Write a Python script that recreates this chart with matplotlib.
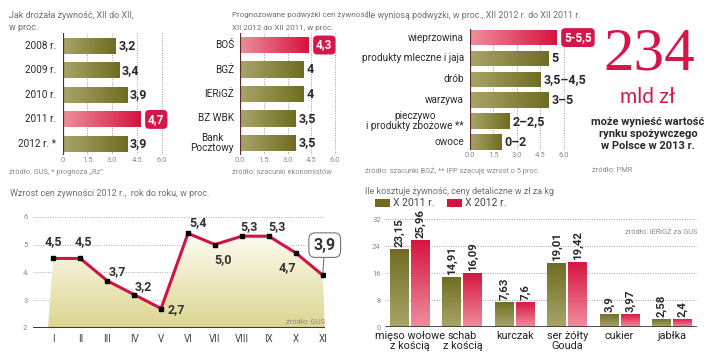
import numpy as np
import matplotlib
matplotlib.use("Agg")
import matplotlib.pyplot as plt
from matplotlib.colors import LinearSegmentedColormap
from matplotlib.patches import Polygon, Rectangle

plt.rcParams["font.family"] = ["Roboto", "DejaVu Sans"]

# --- data ------------------------------------------------------------------
years = ["2008 r.", "2009 r.", "2010 r.", "2011 r.", "2012 r. *"]
yearly_rise = [3.2, 3.4, 3.9, 4.7, 3.9]

banks = ["BOŚ", "BGŻ", "IERiGŻ", "BZ WBK", "Bank\nPocztowy"]
bank_forecast = [4.3, 4.0, 4.0, 3.5, 3.5]
bank_labels = ["4,3", "4", "4", "3,5", "3,5"]

products = ["wieprzowina", "produkty mleczne i jaja", "drób", "warzywa",
            "pieczywo\ni produkty zbożowe **", "owoce"]
product_rise_max = [5.5, 5.0, 4.5, 5.0, 2.5, 2.0]
product_labels = ["5-5,5", "5", "3,5–4,5", "3–5", "2–2,5", "0–2"]

months = ["I", "II", "III", "IV", "V", "VI", "VII", "VIII", "IX", "X", "XI"]
monthly_rise = [4.5, 4.5, 3.7, 3.2, 2.7, 5.4, 5.0, 5.3, 5.3, 4.7, 3.9]

foods = ["mięso wołowe\nz kością", "schab\nz kością", "kurczak",
         "ser żółty\nGouda", "cukier", "jabłka"]
price_2011 = [23.15, 14.91, 7.63, 19.01, 3.9, 2.58]
price_2012 = [25.96, 16.09, 7.6, 19.42, 3.97, 2.4]

W, H = 720, 358
OLIVE = ["#a9a56a", "#6f6c22"]
RED = ["#ef8e9c", "#d6133f"]
HILITE = "#d5164a"
DARK = "#2a2a2a"
GREY = "#8a8a8a"
TITLE = "#707070"


def px_axes(fig, left, top, right, bottom):
    ax = fig.add_axes([left / W, 1 - bottom / H, (right - left) / W, (bottom - top) / H])
    for s in ax.spines.values():
        s.set_visible(False)
    ax.patch.set_alpha(0)
    return ax


def fig_text(fig, x, y, s, **kw):
    kw.setdefault("va", "center")
    fig.text(x / W, 1 - y / H, s, **kw)


def grad_fill(ax, patch, colors, vertical=False, extent=None):
    cmap = LinearSegmentedColormap.from_list("g", colors)
    ramp = np.linspace(0, 1, 128)
    arr = ramp.reshape(-1, 1) if vertical else ramp.reshape(1, -1)
    if extent is None:
        x0, y0 = patch.get_x(), patch.get_y()
        extent = (x0, x0 + patch.get_width(), y0, y0 + patch.get_height())
    im = ax.imshow(arr, extent=extent, origin="lower", aspect="auto", cmap=cmap,
                   interpolation="bilinear", zorder=patch.get_zorder() + 0.1)
    im.set_clip_path(patch)


def hbar_panel(fig, box, cats, vals, labels, hi, tick_labels, bar_h, ylim):
    ax = px_axes(fig, *box)
    ticks = [0, 1.5, 3.0, 4.5, 6.0]
    for t in ticks[1:]:
        ax.axvline(t, color="#9a9a9a", lw=0.7, ls=(0, (1, 1.5)), zorder=0)
    ax.axvline(0, color="#5c2b2b", lw=1.6, zorder=3)
    bars = ax.barh(np.arange(len(vals)), vals, height=bar_h, color=OLIVE[1],
                   edgecolor="none", zorder=2)
    for i, (bar, lbl) in enumerate(zip(bars, labels)):
        grad_fill(ax, bar, RED if i == hi else OLIVE)
        if i == hi:
            ax.annotate(lbl, (bar.get_width(), i), xytext=(8, 0), textcoords="offset pixels",
                        ha="left", va="center", color="white", fontsize=8.5, fontweight="bold",
                        bbox=dict(boxstyle="round,pad=0.25,rounding_size=0.35", fc=HILITE, ec="none"))
        else:
            ax.annotate(lbl, (bar.get_width(), i), xytext=(3, 0), textcoords="offset pixels",
                        ha="left", va="center", color=DARK, fontsize=9, fontweight="bold")
        ax.annotate(cats[i], (0, i), xytext=(-6, 0), textcoords="offset pixels", ha="right",
                    va="center", fontsize=7.2, color=DARK, multialignment="center",
                    linespacing=0.95)
    ax.set_xticks(ticks, tick_labels)
    ax.set_yticks([])
    ax.tick_params(axis="x", length=0, pad=1.5, labelsize=5.5, labelcolor=GREY)
    ax.set_xlim(0, 6.2)
    ax.set_ylim(ylim)
    return ax


fig = plt.figure(figsize=(W / 100, H / 100), dpi=100)

# --- panel 1: yearly rise ---------------------------------------------------
fig_text(fig, 9, 15, "Jak drożała żywność, XII do XII,", fontsize=6.5, color=TITLE)
fig_text(fig, 9, 28, "w proc.", fontsize=6.5, color=TITLE)
hbar_panel(fig, (62.5, 33, 164.8, 155), years, yearly_rise,
           [f"{v:.1f}".replace(".", ",") for v in yearly_rise], 3,
           ["0", "1.5", "3.0", "4.5", "6.0"], 0.65, (4.45, -0.52))
fig_text(fig, 9, 172, "źródło: GUS, * prognoza „Rz”", fontsize=5.3, color=GREY)

# --- panel 2: bank forecasts -----------------------------------------------
fig_text(fig, 232, 15, "Prognozowane podwyżki cen żywności,", fontsize=5.8, color=TITLE)
fig_text(fig, 232, 28, "XII 2012 do XII 2011, w proc.", fontsize=5.8, color=TITLE)
hbar_panel(fig, (240, 33, 338.2, 155), banks, bank_forecast, bank_labels, 0,
           ["0.0", "1.5", "3.0", "4.5", "6.0"], 0.67, (4.49, -0.49))
fig_text(fig, 232, 172, "źródło: szacunki ekonomistów", fontsize=5.3, color=GREY)

# --- panel 3: product forecasts --------------------------------------------
fig_text(fig, 366, 15, "Ile wyniosą podwyżki, w proc., XII 2012 r. do XII 2011 r.",
         fontsize=6.4, color=TITLE)
hbar_panel(fig, (470, 29, 567.1, 150), products, product_rise_max, product_labels, 0,
           ["0.0", "1.5", "3.0", "4.5", "6.0"], 0.75, (5.38, -0.41))
fig_text(fig, 365, 171, "źródło: szacunki BGŻ, ** IPP szacuje wzrost o 5 proc.",
         fontsize=5.3, color=GREY)

# --- market value callout ---------------------------------------------------
fig_text(fig, 649, 55, "234", ha="center", fontsize=44, color=HILITE,
         family=["Liberation Serif", "DejaVu Serif"])
fig_text(fig, 648, 97, "mld zł", ha="center", fontsize=15, color=HILITE,
         family=["Lato", "DejaVu Sans"])
fig_text(fig, 648, 134, "może wynieść wartość\nrynku spożywczego\nw Polsce w 2013 r.",
         ha="center", fontsize=8, fontweight="bold", color=DARK, linespacing=1.25)
fig_text(fig, 592, 171, "źródło: PMR", fontsize=5.3, color=GREY)

# --- panel 4: monthly line --------------------------------------------------
fig_text(fig, 10, 193, "Wzrost cen żywności 2012 r.,  rok do roku, w proc.",
         fontsize=6.5, color=TITLE)
ax = px_axes(fig, 33, 216.7, 325, 328)
x = np.arange(len(monthly_rise))
for g in [3, 4, 5, 6]:
    ax.axhline(g, color="#b0b0b0", lw=0.7, ls=(0, (1, 1.5)), zorder=0)
ax.axhline(2, color="#3c3c3c", lw=2.2, zorder=4)
verts = [(x[0] - 0.2, 2)] + list(zip(x, monthly_rise)) + [(x[-1] + 0.08, 2)]
area = Polygon(verts, closed=True, fc="none", ec="none", zorder=1)
ax.add_patch(area)
grad_fill(ax, area, ["#dcd690", "#fdfcf2"], vertical=True,
          extent=(x[0] - 0.2, x[-1] + 0.08, 2, max(monthly_rise)))
ax.plot(x, monthly_rise, color="#cf1546", lw=2.2, zorder=5, solid_joinstyle="miter")
ax.plot(x, monthly_rise, "s", color="black", ms=2.6, zorder=6)
offsets = [(0, 17), (3, 17), (10, 9), (9, 8), (15, -1), (10, 11),
           (8, -15), (7, 10), (8, 10), (-8, -15)]
for i, (dx, dy) in enumerate(offsets):
    ax.annotate(f"{monthly_rise[i]:.1f}".replace(".", ","), (x[i], monthly_rise[i]),
                xytext=(dx, dy), textcoords="offset pixels", ha="center", va="center",
                fontsize=9, fontweight="bold", color="#333333")
last = len(monthly_rise) - 1
ax.annotate(f"{monthly_rise[last]:.1f}".replace(".", ","), (x[last], monthly_rise[last]),
            xytext=(2, 30), textcoords="offset pixels", ha="center", va="center",
            fontsize=11.5, fontweight="bold", color="#333333", annotation_clip=False,
            bbox=dict(boxstyle="round,pad=0.3,rounding_size=0.4", fc="white", ec="#777777", lw=0.8),
            arrowprops=dict(arrowstyle="-", color="#666666", lw=0.7, shrinkA=0, shrinkB=1.5),
            zorder=7)
ax.text(1, 0.05, "źródło: GUS", transform=ax.transAxes, ha="right", va="center",
        fontsize=5.3, color=GREY, zorder=7)
ax.set_xticks(x, months)
ax.set_yticks([2, 3, 4, 5, 6])
ax.tick_params(axis="x", length=0, pad=4, labelsize=7, labelcolor="#444444")
ax.tick_params(axis="y", length=0, pad=4, labelsize=5.5, labelcolor=GREY)
ax.set_xlim(-0.754, 10.085)
ax.set_ylim(2, 6)

# --- panel 5: retail prices -------------------------------------------------
fig_text(fig, 365, 192, "Ile kosztuje żywność, ceny detaliczne w zł za kg",
         fontsize=6.5, color=TITLE)
for lx, tx, cols, name in [(375, 393, OLIVE, "X 2011 r."), (447, 465, RED, "X 2012 r.")]:
    fig.add_artist(Rectangle((lx / W, 1 - 207 / H), 15 / W, 8 / H, transform=fig.transFigure,
                             fc=cols[1], ec="none"))
    fig_text(fig, tx, 203, name, fontsize=7.5, color="#444444")

ax = px_axes(fig, 385, 219.3, 697, 327.3)
for g in [8, 16, 24, 32]:
    ax.axhline(g, color="#a0a0a0", lw=0.7, ls=(0, (1, 1.5)), zorder=0)
ax.axhline(0, color="#3c3c3c", lw=2.0, zorder=4)
gx = np.arange(len(foods))
bw = 0.36
for vals, shift, cols in [(price_2011, -0.2, OLIVE), (price_2012, 0.2, RED)]:
    bars = ax.bar(gx + shift, vals, width=bw, color=cols[1], edgecolor="none", zorder=2)
    for bar, v in zip(bars, vals):
        grad_fill(ax, bar, [cols[0], cols[1]], vertical=True)
        ax.annotate(str(v).replace(".", ","), (bar.get_x() + bw / 2, v), xytext=(0, 2),
                    textcoords="offset pixels", rotation=90, ha="center", va="bottom",
                    fontsize=8.2, fontweight="bold", color=DARK)
ax.text(1, 0.88, "źródło: IERiGŻ za GUS", transform=ax.transAxes, ha="right", va="center",
        fontsize=5.3, color=GREY)
ax.set_xticks(gx, foods)
ax.set_yticks([0, 8, 16, 24, 32])
ax.tick_params(axis="x", length=0, pad=3, labelsize=7.8, labelcolor="#222222")
ax.tick_params(axis="y", length=0, pad=3, labelsize=5.5, labelcolor=GREY)
for lbl in ax.get_xticklabels():
    lbl.set_linespacing(0.95)
ax.set_xlim(-0.477, 5.477)
ax.set_ylim(0, 32)

fig.savefig("out.png", dpi=100)
